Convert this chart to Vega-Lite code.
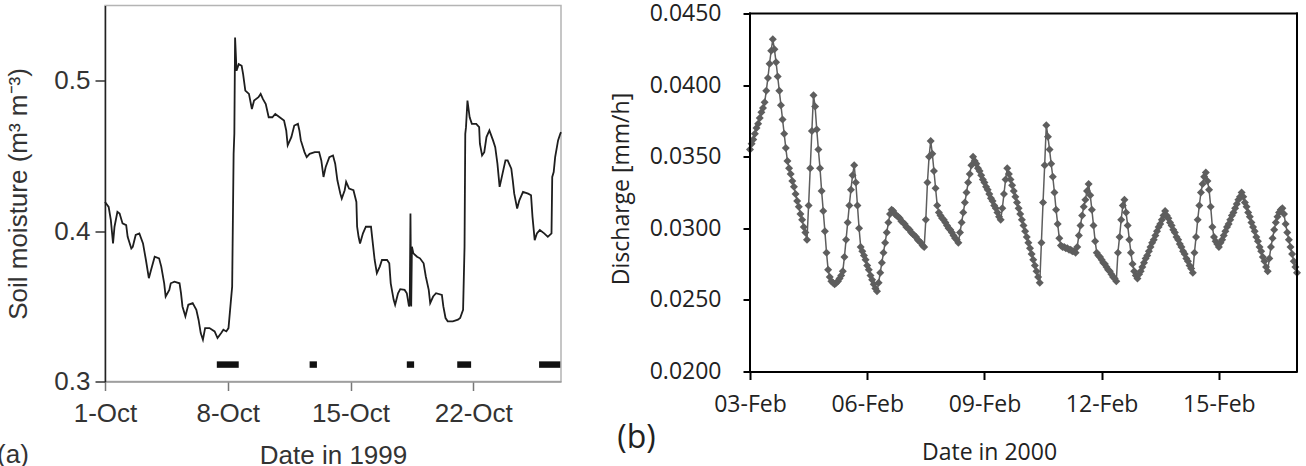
{
"$schema": "https://vega.github.io/schema/vega-lite/v6.json",
"background": "white",
"padding": {"left": -3, "top": 2.5, "right": 0, "bottom": 0},
"spacing": 44,
"title": {"text": "(a)", "orient": "bottom", "anchor": "start", "frame": "bounds", "offset": -27, "dx": -8, "font": "Liberation Sans", "fontSize": 26, "fontWeight": "normal", "color": "#333333"},
"config": {"axis": {"grid": false, "labelFlush": false, "labelOverlap": false}},
"datasets": {
"soil": [
{"t":"1999-10-01T00:00","m":0.4194},{"t":"1999-10-01T05:00","m":0.4161},{"t":"1999-10-01T08:00","m":0.4073},{"t":"1999-10-01T11:00","m":0.3918},{"t":"1999-10-01T13:00","m":0.4029},{"t":"1999-10-01T17:00","m":0.4128},{"t":"1999-10-01T20:00","m":0.4117},
{"t":"1999-10-02T00:00","m":0.4051},{"t":"1999-10-02T05:00","m":0.4040},{"t":"1999-10-02T07:00","m":0.3962},{"t":"1999-10-02T12:00","m":0.3885},{"t":"1999-10-02T14:00","m":0.3896},{"t":"1999-10-02T18:00","m":0.3974},{"t":"1999-10-02T23:00","m":0.3985},
{"t":"1999-10-03T04:00","m":0.3918},{"t":"1999-10-03T08:00","m":0.3808},{"t":"1999-10-03T12:00","m":0.3687},{"t":"1999-10-03T15:00","m":0.3742},{"t":"1999-10-03T20:00","m":0.3830},
{"t":"1999-10-04T02:00","m":0.3819},{"t":"1999-10-04T05:00","m":0.3764},{"t":"1999-10-04T09:00","m":0.3653},{"t":"1999-10-04T11:00","m":0.3565},{"t":"1999-10-04T16:00","m":0.3609},{"t":"1999-10-04T18:00","m":0.3653},{"t":"1999-10-04T23:00","m":0.3664},
{"t":"1999-10-05T06:00","m":0.3653},{"t":"1999-10-05T08:00","m":0.3587},{"t":"1999-10-05T10:00","m":0.3499},{"t":"1999-10-05T14:00","m":0.3433},{"t":"1999-10-05T18:00","m":0.3510},
{"t":"1999-10-06T00:00","m":0.3521},{"t":"1999-10-06T05:00","m":0.3477},{"t":"1999-10-06T08:00","m":0.3411},{"t":"1999-10-06T11:00","m":0.3322},{"t":"1999-10-06T14:00","m":0.3278},{"t":"1999-10-06T17:00","m":0.3355},{"t":"1999-10-06T23:00","m":0.3355},
{"t":"1999-10-07T06:00","m":0.3333},{"t":"1999-10-07T10:00","m":0.3289},{"t":"1999-10-07T15:00","m":0.3322},{"t":"1999-10-07T18:00","m":0.3344},{"t":"1999-10-07T22:00","m":0.3333},
{"t":"1999-10-08T01:00","m":0.3355},{"t":"1999-10-08T04:00","m":0.3521},{"t":"1999-10-08T06:00","m":0.3631},{"t":"1999-10-08T08:00","m":0.4514},{"t":"1999-10-08T09:00","m":0.4647},{"t":"1999-10-08T10:00","m":0.5287},{"t":"1999-10-08T11:00","m":0.5177},{"t":"1999-10-08T12:00","m":0.5066},{"t":"1999-10-08T15:00","m":0.5110},{"t":"1999-10-08T19:00","m":0.5099},{"t":"1999-10-08T21:00","m":0.5044},
{"t":"1999-10-09T00:00","m":0.4934},{"t":"1999-10-09T05:00","m":0.4912},{"t":"1999-10-09T09:00","m":0.4812},{"t":"1999-10-09T12:00","m":0.4868},{"t":"1999-10-09T18:00","m":0.4890},{"t":"1999-10-09T21:00","m":0.4912},
{"t":"1999-10-10T00:00","m":0.4879},{"t":"1999-10-10T04:00","m":0.4845},{"t":"1999-10-10T08:00","m":0.4757},{"t":"1999-10-10T13:00","m":0.4757},{"t":"1999-10-10T17:00","m":0.4779},{"t":"1999-10-10T23:00","m":0.4757},
{"t":"1999-10-11T05:00","m":0.4735},{"t":"1999-10-11T08:00","m":0.4669},{"t":"1999-10-11T10:00","m":0.4570},{"t":"1999-10-11T15:00","m":0.4625},{"t":"1999-10-11T19:00","m":0.4702},
{"t":"1999-10-12T00:00","m":0.4713},{"t":"1999-10-12T02:00","m":0.4669},{"t":"1999-10-12T04:00","m":0.4603},{"t":"1999-10-12T09:00","m":0.4525},{"t":"1999-10-12T12:00","m":0.4492},{"t":"1999-10-12T16:00","m":0.4514},{"t":"1999-10-12T23:00","m":0.4525},
{"t":"1999-10-13T05:00","m":0.4525},{"t":"1999-10-13T08:00","m":0.4470},{"t":"1999-10-13T11:00","m":0.4360},{"t":"1999-10-13T14:00","m":0.4426},{"t":"1999-10-13T19:00","m":0.4492},
{"t":"1999-10-14T00:00","m":0.4503},{"t":"1999-10-14T03:00","m":0.4448},{"t":"1999-10-14T06:00","m":0.4338},{"t":"1999-10-14T10:00","m":0.4249},{"t":"1999-10-14T12:00","m":0.4216},{"t":"1999-10-14T16:00","m":0.4272},{"t":"1999-10-14T18:00","m":0.4327},{"t":"1999-10-14T22:00","m":0.4283},
{"t":"1999-10-15T04:00","m":0.4272},{"t":"1999-10-15T08:00","m":0.4194},{"t":"1999-10-15T09:00","m":0.4029},{"t":"1999-10-15T11:00","m":0.3962},{"t":"1999-10-15T13:00","m":0.3918},{"t":"1999-10-15T17:00","m":0.3985},{"t":"1999-10-15T21:00","m":0.4029},
{"t":"1999-10-16T04:00","m":0.4029},{"t":"1999-10-16T06:00","m":0.3940},{"t":"1999-10-16T09:00","m":0.3808},{"t":"1999-10-16T12:00","m":0.3720},{"t":"1999-10-16T16:00","m":0.3764},{"t":"1999-10-16T19:00","m":0.3808},
{"t":"1999-10-17T02:00","m":0.3808},{"t":"1999-10-17T05:00","m":0.3786},{"t":"1999-10-17T07:00","m":0.3653},{"t":"1999-10-17T11:00","m":0.3543},{"t":"1999-10-17T13:00","m":0.3510},{"t":"1999-10-17T17:00","m":0.3587},{"t":"1999-10-17T20:00","m":0.3614},
{"t":"1999-10-18T02:00","m":0.3609},{"t":"1999-10-18T05:00","m":0.3587},{"t":"1999-10-18T08:00","m":0.3499},{"t":"1999-10-18T09:00","m":0.3521},{"t":"1999-10-18T10:00","m":0.4117},{"t":"1999-10-18T11:00","m":0.3499},{"t":"1999-10-18T12:00","m":0.3896},{"t":"1999-10-18T14:00","m":0.3852},{"t":"1999-10-18T19:00","m":0.3830},{"t":"1999-10-18T23:00","m":0.3819},
{"t":"1999-10-19T04:00","m":0.3786},{"t":"1999-10-19T07:00","m":0.3698},{"t":"1999-10-19T11:00","m":0.3609},{"t":"1999-10-19T13:00","m":0.3521},{"t":"1999-10-19T17:00","m":0.3565},{"t":"1999-10-19T21:00","m":0.3587},
{"t":"1999-10-20T05:00","m":0.3576},{"t":"1999-10-20T07:00","m":0.3499},{"t":"1999-10-20T10:00","m":0.3422},{"t":"1999-10-20T13:00","m":0.3400},{"t":"1999-10-20T20:00","m":0.3400},
{"t":"1999-10-21T03:00","m":0.3411},{"t":"1999-10-21T06:00","m":0.3422},{"t":"1999-10-21T10:00","m":0.3477},{"t":"1999-10-21T12:00","m":0.3896},{"t":"1999-10-21T13:00","m":0.4647},{"t":"1999-10-21T14:00","m":0.4691},{"t":"1999-10-21T16:00","m":0.4868},{"t":"1999-10-21T19:00","m":0.4757},{"t":"1999-10-21T22:00","m":0.4713},
{"t":"1999-10-22T04:00","m":0.4713},{"t":"1999-10-22T08:00","m":0.4691},{"t":"1999-10-22T09:00","m":0.4581},{"t":"1999-10-22T12:00","m":0.4503},{"t":"1999-10-22T15:00","m":0.4525},{"t":"1999-10-22T18:00","m":0.4625},{"t":"1999-10-22T22:00","m":0.4669},
{"t":"1999-10-23T03:00","m":0.4603},{"t":"1999-10-23T06:00","m":0.4558},{"t":"1999-10-23T09:00","m":0.4448},{"t":"1999-10-23T12:00","m":0.4294},{"t":"1999-10-23T16:00","m":0.4382},{"t":"1999-10-23T20:00","m":0.4470},{"t":"1999-10-23T23:00","m":0.4470},
{"t":"1999-10-24T04:00","m":0.4415},{"t":"1999-10-24T06:00","m":0.4338},{"t":"1999-10-24T08:00","m":0.4249},{"t":"1999-10-24T12:00","m":0.4150},{"t":"1999-10-24T15:00","m":0.4205},{"t":"1999-10-24T20:00","m":0.4261},
{"t":"1999-10-25T03:00","m":0.4249},{"t":"1999-10-25T07:00","m":0.4238},{"t":"1999-10-25T09:00","m":0.4095},{"t":"1999-10-25T12:00","m":0.3940},{"t":"1999-10-25T15:00","m":0.3985},{"t":"1999-10-25T19:00","m":0.4007},
{"t":"1999-10-26T01:00","m":0.3985},{"t":"1999-10-26T06:00","m":0.3962},{"t":"1999-10-26T11:00","m":0.3985},{"t":"1999-10-26T12:00","m":0.4360},{"t":"1999-10-26T14:00","m":0.4393},{"t":"1999-10-26T16:00","m":0.4492},{"t":"1999-10-26T20:00","m":0.4603},{"t":"1999-10-26T23:00","m":0.4647},
{"t":"1999-10-27T00:00","m":0.4658}
],
"rain": [
{"s":"1999-10-07T09:00","e":"1999-10-08T15:00","lo":0.3091,"hi":0.3134},
{"s":"1999-10-12T16:00","e":"1999-10-13T02:00","lo":0.3091,"hi":0.3134},
{"s":"1999-10-18T05:00","e":"1999-10-18T15:00","lo":0.3091,"hi":0.3134},
{"s":"1999-10-21T02:00","e":"1999-10-21T21:00","lo":0.3091,"hi":0.3134},
{"s":"1999-10-25T18:00","e":"1999-10-26T23:00","lo":0.3091,"hi":0.3134}
],
"dis": [
{"t":"2000-02-03T00:00","q":0.0355},{"t":"2000-02-03T01:00","q":0.0359},{"t":"2000-02-03T02:00","q":0.0362},{"t":"2000-02-03T03:00","q":0.0366},{"t":"2000-02-03T04:00","q":0.0370},{"t":"2000-02-03T05:00","q":0.0373},{"t":"2000-02-03T06:00","q":0.0377},{"t":"2000-02-03T07:00","q":0.0381},{"t":"2000-02-03T08:00","q":0.0384},{"t":"2000-02-03T09:00","q":0.0388},{"t":"2000-02-03T10:00","q":0.0396},{"t":"2000-02-03T11:00","q":0.0405},{"t":"2000-02-03T12:00","q":0.0415},{"t":"2000-02-03T13:00","q":0.0424},{"t":"2000-02-03T14:00","q":0.0432},{"t":"2000-02-03T15:00","q":0.0425},{"t":"2000-02-03T16:00","q":0.0416},{"t":"2000-02-03T17:00","q":0.0406},{"t":"2000-02-03T18:00","q":0.0396},{"t":"2000-02-03T19:00","q":0.0386},{"t":"2000-02-03T20:00","q":0.0376},{"t":"2000-02-03T21:00","q":0.0366},{"t":"2000-02-03T22:00","q":0.0356},{"t":"2000-02-03T23:00","q":0.0347},
{"t":"2000-02-04T00:00","q":0.0342},{"t":"2000-02-04T01:00","q":0.0338},{"t":"2000-02-04T02:00","q":0.0333},{"t":"2000-02-04T03:00","q":0.0329},{"t":"2000-02-04T04:00","q":0.0324},{"t":"2000-02-04T05:00","q":0.0319},{"t":"2000-02-04T06:00","q":0.0315},{"t":"2000-02-04T07:00","q":0.0310},{"t":"2000-02-04T08:00","q":0.0306},{"t":"2000-02-04T09:00","q":0.0301},{"t":"2000-02-04T10:00","q":0.0297},{"t":"2000-02-04T11:00","q":0.0292},{"t":"2000-02-04T12:00","q":0.0316},{"t":"2000-02-04T13:00","q":0.0342},{"t":"2000-02-04T14:00","q":0.0368},{"t":"2000-02-04T15:00","q":0.0393},{"t":"2000-02-04T16:00","q":0.0385},{"t":"2000-02-04T17:00","q":0.0369},{"t":"2000-02-04T18:00","q":0.0355},{"t":"2000-02-04T19:00","q":0.0342},{"t":"2000-02-04T20:00","q":0.0326},{"t":"2000-02-04T21:00","q":0.0312},{"t":"2000-02-04T22:00","q":0.0298},{"t":"2000-02-04T23:00","q":0.0283},
{"t":"2000-02-05T00:00","q":0.0271},{"t":"2000-02-05T01:00","q":0.0266},{"t":"2000-02-05T02:00","q":0.0263},{"t":"2000-02-05T03:00","q":0.0262},{"t":"2000-02-05T04:00","q":0.0261},{"t":"2000-02-05T05:00","q":0.0262},{"t":"2000-02-05T06:00","q":0.0263},{"t":"2000-02-05T07:00","q":0.0265},{"t":"2000-02-05T08:00","q":0.0267},{"t":"2000-02-05T09:00","q":0.0270},{"t":"2000-02-05T10:00","q":0.0280},{"t":"2000-02-05T11:00","q":0.0292},{"t":"2000-02-05T12:00","q":0.0304},{"t":"2000-02-05T13:00","q":0.0316},{"t":"2000-02-05T14:00","q":0.0327},{"t":"2000-02-05T15:00","q":0.0337},{"t":"2000-02-05T16:00","q":0.0344},{"t":"2000-02-05T17:00","q":0.0332},{"t":"2000-02-05T18:00","q":0.0316},{"t":"2000-02-05T19:00","q":0.0300},{"t":"2000-02-05T20:00","q":0.0287},{"t":"2000-02-05T21:00","q":0.0284},{"t":"2000-02-05T22:00","q":0.0281},{"t":"2000-02-05T23:00","q":0.0278},
{"t":"2000-02-06T00:00","q":0.0274},{"t":"2000-02-06T01:00","q":0.0271},{"t":"2000-02-06T02:00","q":0.0267},{"t":"2000-02-06T03:00","q":0.0264},{"t":"2000-02-06T04:00","q":0.0261},{"t":"2000-02-06T05:00","q":0.0258},{"t":"2000-02-06T06:00","q":0.0256},{"t":"2000-02-06T07:00","q":0.0262},{"t":"2000-02-06T08:00","q":0.0269},{"t":"2000-02-06T09:00","q":0.0276},{"t":"2000-02-06T10:00","q":0.0283},{"t":"2000-02-06T11:00","q":0.0290},{"t":"2000-02-06T12:00","q":0.0297},{"t":"2000-02-06T13:00","q":0.0304},{"t":"2000-02-06T14:00","q":0.0310},{"t":"2000-02-06T15:00","q":0.0313},{"t":"2000-02-06T16:00","q":0.0312},{"t":"2000-02-06T17:00","q":0.0310},{"t":"2000-02-06T18:00","q":0.0309},{"t":"2000-02-06T19:00","q":0.0308},{"t":"2000-02-06T20:00","q":0.0307},{"t":"2000-02-06T21:00","q":0.0305},{"t":"2000-02-06T22:00","q":0.0304},{"t":"2000-02-06T23:00","q":0.0303},
{"t":"2000-02-07T00:00","q":0.0301},{"t":"2000-02-07T01:00","q":0.0300},{"t":"2000-02-07T02:00","q":0.0299},{"t":"2000-02-07T03:00","q":0.0297},{"t":"2000-02-07T04:00","q":0.0296},{"t":"2000-02-07T05:00","q":0.0295},{"t":"2000-02-07T06:00","q":0.0294},{"t":"2000-02-07T07:00","q":0.0292},{"t":"2000-02-07T08:00","q":0.0291},{"t":"2000-02-07T09:00","q":0.0290},{"t":"2000-02-07T10:00","q":0.0288},{"t":"2000-02-07T11:00","q":0.0287},{"t":"2000-02-07T12:00","q":0.0306},{"t":"2000-02-07T13:00","q":0.0332},{"t":"2000-02-07T14:00","q":0.0350},{"t":"2000-02-07T15:00","q":0.0361},{"t":"2000-02-07T16:00","q":0.0352},{"t":"2000-02-07T17:00","q":0.0340},{"t":"2000-02-07T18:00","q":0.0328},{"t":"2000-02-07T19:00","q":0.0316},{"t":"2000-02-07T20:00","q":0.0311},{"t":"2000-02-07T21:00","q":0.0309},{"t":"2000-02-07T22:00","q":0.0307},{"t":"2000-02-07T23:00","q":0.0306},
{"t":"2000-02-08T00:00","q":0.0304},{"t":"2000-02-08T01:00","q":0.0302},{"t":"2000-02-08T02:00","q":0.0300},{"t":"2000-02-08T03:00","q":0.0299},{"t":"2000-02-08T04:00","q":0.0297},{"t":"2000-02-08T05:00","q":0.0295},{"t":"2000-02-08T06:00","q":0.0293},{"t":"2000-02-08T07:00","q":0.0292},{"t":"2000-02-08T08:00","q":0.0290},{"t":"2000-02-08T09:00","q":0.0297},{"t":"2000-02-08T10:00","q":0.0304},{"t":"2000-02-08T11:00","q":0.0311},{"t":"2000-02-08T12:00","q":0.0318},{"t":"2000-02-08T13:00","q":0.0325},{"t":"2000-02-08T14:00","q":0.0332},{"t":"2000-02-08T15:00","q":0.0338},{"t":"2000-02-08T16:00","q":0.0344},{"t":"2000-02-08T17:00","q":0.0350},{"t":"2000-02-08T18:00","q":0.0347},{"t":"2000-02-08T19:00","q":0.0345},{"t":"2000-02-08T20:00","q":0.0342},{"t":"2000-02-08T21:00","q":0.0340},{"t":"2000-02-08T22:00","q":0.0337},{"t":"2000-02-08T23:00","q":0.0334},
{"t":"2000-02-09T00:00","q":0.0332},{"t":"2000-02-09T01:00","q":0.0329},{"t":"2000-02-09T02:00","q":0.0327},{"t":"2000-02-09T03:00","q":0.0324},{"t":"2000-02-09T04:00","q":0.0321},{"t":"2000-02-09T05:00","q":0.0319},{"t":"2000-02-09T06:00","q":0.0316},{"t":"2000-02-09T07:00","q":0.0314},{"t":"2000-02-09T08:00","q":0.0311},{"t":"2000-02-09T09:00","q":0.0308},{"t":"2000-02-09T10:00","q":0.0306},{"t":"2000-02-09T11:00","q":0.0314},{"t":"2000-02-09T12:00","q":0.0324},{"t":"2000-02-09T13:00","q":0.0334},{"t":"2000-02-09T14:00","q":0.0342},{"t":"2000-02-09T15:00","q":0.0338},{"t":"2000-02-09T16:00","q":0.0334},{"t":"2000-02-09T17:00","q":0.0330},{"t":"2000-02-09T18:00","q":0.0326},{"t":"2000-02-09T19:00","q":0.0322},{"t":"2000-02-09T20:00","q":0.0318},{"t":"2000-02-09T21:00","q":0.0314},{"t":"2000-02-09T22:00","q":0.0310},{"t":"2000-02-09T23:00","q":0.0306},
{"t":"2000-02-10T00:00","q":0.0302},{"t":"2000-02-10T01:00","q":0.0298},{"t":"2000-02-10T02:00","q":0.0294},{"t":"2000-02-10T03:00","q":0.0290},{"t":"2000-02-10T04:00","q":0.0286},{"t":"2000-02-10T05:00","q":0.0282},{"t":"2000-02-10T06:00","q":0.0278},{"t":"2000-02-10T07:00","q":0.0274},{"t":"2000-02-10T08:00","q":0.0270},{"t":"2000-02-10T09:00","q":0.0266},{"t":"2000-02-10T10:00","q":0.0262},{"t":"2000-02-10T11:00","q":0.0290},{"t":"2000-02-10T12:00","q":0.0318},{"t":"2000-02-10T13:00","q":0.0344},{"t":"2000-02-10T14:00","q":0.0372},{"t":"2000-02-10T15:00","q":0.0364},{"t":"2000-02-10T16:00","q":0.0355},{"t":"2000-02-10T17:00","q":0.0345},{"t":"2000-02-10T18:00","q":0.0336},{"t":"2000-02-10T19:00","q":0.0325},{"t":"2000-02-10T20:00","q":0.0313},{"t":"2000-02-10T21:00","q":0.0303},{"t":"2000-02-10T22:00","q":0.0293},{"t":"2000-02-10T23:00","q":0.0288},
{"t":"2000-02-11T00:00","q":0.0287},{"t":"2000-02-11T01:00","q":0.0287},{"t":"2000-02-11T02:00","q":0.0286},{"t":"2000-02-11T03:00","q":0.0286},{"t":"2000-02-11T04:00","q":0.0285},{"t":"2000-02-11T05:00","q":0.0285},{"t":"2000-02-11T06:00","q":0.0284},{"t":"2000-02-11T07:00","q":0.0284},{"t":"2000-02-11T08:00","q":0.0283},{"t":"2000-02-11T09:00","q":0.0287},{"t":"2000-02-11T10:00","q":0.0295},{"t":"2000-02-11T11:00","q":0.0302},{"t":"2000-02-11T12:00","q":0.0309},{"t":"2000-02-11T13:00","q":0.0315},{"t":"2000-02-11T14:00","q":0.0320},{"t":"2000-02-11T15:00","q":0.0326},{"t":"2000-02-11T16:00","q":0.0331},{"t":"2000-02-11T17:00","q":0.0323},{"t":"2000-02-11T18:00","q":0.0313},{"t":"2000-02-11T19:00","q":0.0302},{"t":"2000-02-11T20:00","q":0.0291},{"t":"2000-02-11T21:00","q":0.0283},{"t":"2000-02-11T22:00","q":0.0281},{"t":"2000-02-11T23:00","q":0.0280},
{"t":"2000-02-12T00:00","q":0.0278},{"t":"2000-02-12T01:00","q":0.0276},{"t":"2000-02-12T02:00","q":0.0275},{"t":"2000-02-12T03:00","q":0.0273},{"t":"2000-02-12T04:00","q":0.0271},{"t":"2000-02-12T05:00","q":0.0270},{"t":"2000-02-12T06:00","q":0.0268},{"t":"2000-02-12T07:00","q":0.0266},{"t":"2000-02-12T08:00","q":0.0265},{"t":"2000-02-12T09:00","q":0.0263},{"t":"2000-02-12T10:00","q":0.0283},{"t":"2000-02-12T11:00","q":0.0294},{"t":"2000-02-12T12:00","q":0.0306},{"t":"2000-02-12T13:00","q":0.0316},{"t":"2000-02-12T14:00","q":0.0320},{"t":"2000-02-12T15:00","q":0.0311},{"t":"2000-02-12T16:00","q":0.0302},{"t":"2000-02-12T17:00","q":0.0292},{"t":"2000-02-12T18:00","q":0.0283},{"t":"2000-02-12T19:00","q":0.0275},{"t":"2000-02-12T20:00","q":0.0270},{"t":"2000-02-12T21:00","q":0.0267},{"t":"2000-02-12T22:00","q":0.0265},{"t":"2000-02-12T23:00","q":0.0268},
{"t":"2000-02-13T00:00","q":0.0270},{"t":"2000-02-13T01:00","q":0.0273},{"t":"2000-02-13T02:00","q":0.0276},{"t":"2000-02-13T03:00","q":0.0279},{"t":"2000-02-13T04:00","q":0.0281},{"t":"2000-02-13T05:00","q":0.0284},{"t":"2000-02-13T06:00","q":0.0287},{"t":"2000-02-13T07:00","q":0.0290},{"t":"2000-02-13T08:00","q":0.0292},{"t":"2000-02-13T09:00","q":0.0295},{"t":"2000-02-13T10:00","q":0.0298},{"t":"2000-02-13T11:00","q":0.0301},{"t":"2000-02-13T12:00","q":0.0303},{"t":"2000-02-13T13:00","q":0.0306},{"t":"2000-02-13T14:00","q":0.0309},{"t":"2000-02-13T15:00","q":0.0312},{"t":"2000-02-13T16:00","q":0.0309},{"t":"2000-02-13T17:00","q":0.0307},{"t":"2000-02-13T18:00","q":0.0304},{"t":"2000-02-13T19:00","q":0.0302},{"t":"2000-02-13T20:00","q":0.0299},{"t":"2000-02-13T21:00","q":0.0297},{"t":"2000-02-13T22:00","q":0.0294},{"t":"2000-02-13T23:00","q":0.0292},
{"t":"2000-02-14T00:00","q":0.0289},{"t":"2000-02-14T01:00","q":0.0287},{"t":"2000-02-14T02:00","q":0.0284},{"t":"2000-02-14T03:00","q":0.0282},{"t":"2000-02-14T04:00","q":0.0279},{"t":"2000-02-14T05:00","q":0.0277},{"t":"2000-02-14T06:00","q":0.0274},{"t":"2000-02-14T07:00","q":0.0272},{"t":"2000-02-14T08:00","q":0.0269},{"t":"2000-02-14T09:00","q":0.0283},{"t":"2000-02-14T10:00","q":0.0294},{"t":"2000-02-14T11:00","q":0.0306},{"t":"2000-02-14T12:00","q":0.0316},{"t":"2000-02-14T13:00","q":0.0325},{"t":"2000-02-14T14:00","q":0.0331},{"t":"2000-02-14T15:00","q":0.0336},{"t":"2000-02-14T16:00","q":0.0339},{"t":"2000-02-14T17:00","q":0.0333},{"t":"2000-02-14T18:00","q":0.0327},{"t":"2000-02-14T19:00","q":0.0315},{"t":"2000-02-14T20:00","q":0.0301},{"t":"2000-02-14T21:00","q":0.0294},{"t":"2000-02-14T22:00","q":0.0291},{"t":"2000-02-14T23:00","q":0.0289},
{"t":"2000-02-15T00:00","q":0.0287},{"t":"2000-02-15T01:00","q":0.0290},{"t":"2000-02-15T02:00","q":0.0292},{"t":"2000-02-15T03:00","q":0.0295},{"t":"2000-02-15T04:00","q":0.0298},{"t":"2000-02-15T05:00","q":0.0301},{"t":"2000-02-15T06:00","q":0.0303},{"t":"2000-02-15T07:00","q":0.0306},{"t":"2000-02-15T08:00","q":0.0309},{"t":"2000-02-15T09:00","q":0.0311},{"t":"2000-02-15T10:00","q":0.0314},{"t":"2000-02-15T11:00","q":0.0317},{"t":"2000-02-15T12:00","q":0.0320},{"t":"2000-02-15T13:00","q":0.0322},{"t":"2000-02-15T14:00","q":0.0325},{"t":"2000-02-15T15:00","q":0.0322},{"t":"2000-02-15T16:00","q":0.0318},{"t":"2000-02-15T17:00","q":0.0315},{"t":"2000-02-15T18:00","q":0.0311},{"t":"2000-02-15T19:00","q":0.0308},{"t":"2000-02-15T20:00","q":0.0304},{"t":"2000-02-15T21:00","q":0.0301},{"t":"2000-02-15T22:00","q":0.0298},{"t":"2000-02-15T23:00","q":0.0294},
{"t":"2000-02-16T00:00","q":0.0291},{"t":"2000-02-16T01:00","q":0.0287},{"t":"2000-02-16T02:00","q":0.0284},{"t":"2000-02-16T03:00","q":0.0280},{"t":"2000-02-16T04:00","q":0.0277},{"t":"2000-02-16T05:00","q":0.0273},{"t":"2000-02-16T06:00","q":0.0270},{"t":"2000-02-16T07:00","q":0.0279},{"t":"2000-02-16T08:00","q":0.0287},{"t":"2000-02-16T09:00","q":0.0293},{"t":"2000-02-16T10:00","q":0.0299},{"t":"2000-02-16T11:00","q":0.0304},{"t":"2000-02-16T12:00","q":0.0308},{"t":"2000-02-16T13:00","q":0.0311},{"t":"2000-02-16T14:00","q":0.0313},{"t":"2000-02-16T15:00","q":0.0314},{"t":"2000-02-16T16:00","q":0.0310},{"t":"2000-02-16T17:00","q":0.0303},{"t":"2000-02-16T18:00","q":0.0297},{"t":"2000-02-16T19:00","q":0.0292},{"t":"2000-02-16T20:00","q":0.0287},{"t":"2000-02-16T21:00","q":0.0282},{"t":"2000-02-16T22:00","q":0.0277},{"t":"2000-02-16T23:00","q":0.0273},
{"t":"2000-02-17T00:00","q":0.0269}
]
},
"hconcat": [
{
"width": 456, "height": 376,
"view": {"stroke": "#b4b4b4", "strokeWidth": 1.5},
"layer": [
{"data": {"name": "soil"},
 "mark": {"type": "line", "color": "#1e1e1e", "strokeWidth": 1.8},
 "encoding": {
  "x": {"field": "t", "type": "temporal", "title": "Date in 1999",
   "scale": {"domain": [{"year": 1999, "month": "oct", "date": 1}, {"year": 1999, "month": "oct", "date": 27}]},
   "axis": {"values": [{"year": 1999, "month": "oct", "date": 1}, {"year": 1999, "month": "oct", "date": 8}, {"year": 1999, "month": "oct", "date": 15}, {"year": 1999, "month": "oct", "date": 22}],
    "format": "%-d-%b", "labelFont": "Liberation Sans", "labelFontSize": 26, "labelColor": "#333333", "labelPadding": 10,
    "titleFont": "Liberation Sans", "titleFontSize": 26, "titleFontWeight": "normal", "titleColor": "#333333", "titlePadding": 16,
    "tickSize": 9, "tickColor": "#777777", "tickWidth": 1.5, "domainColor": "#999999", "domainWidth": 1.5}},
  "y": {"field": "m", "type": "quantitative", "title": "Soil moisture (m³ m⁻³)",
   "scale": {"domain": [0.3, 0.55], "nice": false, "zero": false},
   "axis": {"values": [0.3, 0.4, 0.5], "format": ".1f", "labelFont": "Liberation Sans", "labelFontSize": 26, "labelColor": "#333333", "labelPadding": 5,
    "titleFont": "Liberation Sans", "titleFontSize": 26, "titleFontWeight": "normal", "titleColor": "#333333", "titlePadding": 22,
    "tickSize": 10, "tickColor": "#333333", "tickWidth": 1.5, "domainColor": "#222222", "domainWidth": 1.5}}
 }},
{"data": {"name": "rain"},
 "mark": {"type": "rect", "color": "#111111"},
 "encoding": {
  "x": {"field": "s", "type": "temporal", "title": "Date in 1999"},
  "x2": {"field": "e"},
  "y": {"field": "lo", "type": "quantitative", "title": "Soil moisture (m³ m⁻³)"},
  "y2": {"field": "hi"}
 }}
]
},
{
"width": 547, "height": 366,
"view": {"stroke": null},
"title": {"text": "(b)", "orient": "bottom", "anchor": "start", "frame": "bounds", "offset": -42, "dx": 7, "font": "Open Sans", "fontSize": 32, "fontWeight": "normal", "color": "#222222"},
"layer": [
{"data": {"name": "dis"},
 "mark": {"type": "line", "color": "#5e5e5e", "strokeWidth": 1.5, "point": {"shape": "diamond", "filled": true, "size": 64, "color": "#5e5e5e"}},
 "encoding": {
  "x": {"field": "t", "type": "temporal", "title": "Date in 2000",
   "scale": {"domain": [{"year": 2000, "month": "feb", "date": 3}, {"year": 2000, "month": "feb", "date": 17}]},
   "axis": {"values": [{"year": 2000, "month": "feb", "date": 3}, {"year": 2000, "month": "feb", "date": 6}, {"year": 2000, "month": "feb", "date": 9}, {"year": 2000, "month": "feb", "date": 12}, {"year": 2000, "month": "feb", "date": 15}],
    "format": "%d-%b", "labelFont": "Open Sans", "labelFontSize": 23, "labelColor": "#222222", "labelPadding": 14,
    "titleFont": "Open Sans", "titleFontSize": 23, "titleFontWeight": "normal", "titleColor": "#222222", "titlePadding": 25, "titleX": 239,
    "tickSize": 8, "tickColor": "#000000", "tickWidth": 2, "domainColor": "#000000", "domainWidth": 2}},
  "y": {"field": "q", "type": "quantitative", "title": "Discharge [mm/h]",
   "scale": {"domain": [0.02, 0.04556], "nice": false, "zero": false},
   "axis": {"values": [0.02, 0.025, 0.03, 0.035, 0.04, 0.045], "format": ".4f", "labelFont": "Open Sans", "labelFontSize": 23, "labelColor": "#222222", "labelPadding": 22,
    "titleFont": "Open Sans", "titleFontSize": 23, "titleFontWeight": "normal", "titleColor": "#222222", "titlePadding": 16,
    "tickSize": 7, "tickColor": "#000000", "tickWidth": 2, "domain": false}}
 }},
{"data": {"values": [{}]},
 "mark": {"type": "rule", "color": "#000000", "strokeWidth": 2, "strokeCap": "square"},
 "encoding": {
  "x": {"datum": {"year": 2000, "month": "feb", "date": 3}, "type": "temporal", "title": "Date in 2000"},
  "y": {"datum": 0.02, "type": "quantitative", "title": "Discharge [mm/h]"},
  "y2": {"datum": 0.045}
 }},
{"data": {"values": [{}]},
 "mark": {"type": "rule", "color": "#000000", "strokeWidth": 2, "strokeCap": "square"},
 "encoding": {
  "x": {"datum": {"year": 2000, "month": "feb", "date": 17}, "type": "temporal", "title": "Date in 2000"},
  "y": {"datum": 0.02, "type": "quantitative", "title": "Discharge [mm/h]"},
  "y2": {"datum": 0.045}
 }},
{"data": {"values": [{}]},
 "mark": {"type": "rule", "color": "#000000", "strokeWidth": 2, "strokeCap": "square"},
 "encoding": {
  "x": {"datum": {"year": 2000, "month": "feb", "date": 3}, "type": "temporal", "title": "Date in 2000"},
  "x2": {"datum": {"year": 2000, "month": "feb", "date": 17}},
  "y": {"datum": 0.045, "type": "quantitative", "title": "Discharge [mm/h]"}
 }}
]
}
]
}
